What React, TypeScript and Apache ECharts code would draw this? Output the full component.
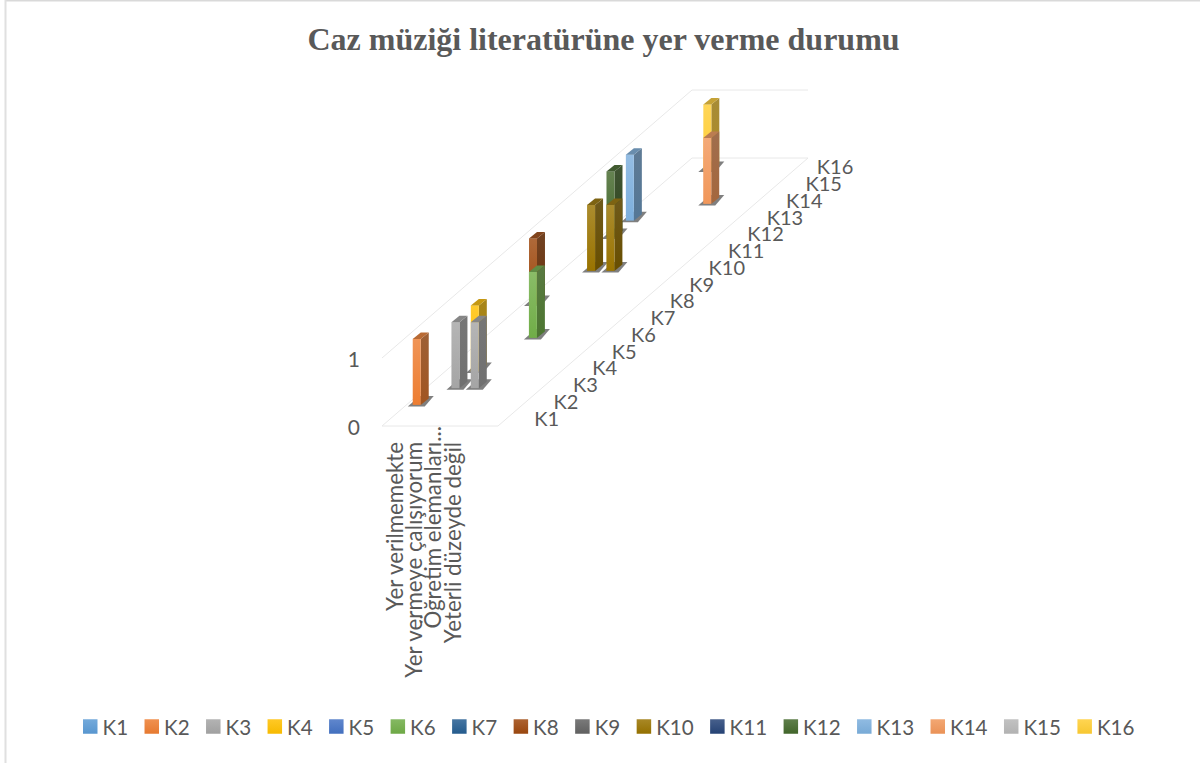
import React, { useEffect, useRef } from "react";
import * as echarts from "echarts";

const titleText = "Caz müziği literatürüne yer verme durumu";
const categories = ["Yer verilmemekte", "Yer vermeye çalışıyorum", "Öğretim elemanları...", "Yeterli düzeyde değil", "", ""];
const depthLabels = ["K1","K2","K3","K4","K5","K6","K7","K8","K9","K10","K11","K12","K13","K14","K15","K16"];
const K1v = [0,0,0,0,0,0];
const K2v = [1,0,0,0,0,0];
const K3v = [0,1,1,0,0,0];
const K4v = [0,1,0,0,0,0];
const K5v = [0,0,0,0,0,0];
const K6v = [0,0,1,0,0,0];
const K7v = [0,0,0,0,0,0];
const K8v = [1,0,0,0,0,0];
const K9v = [0,0,0,0,0,0];
const K10v = [0,1,1,0,0,0];
const K11v = [0,0,0,0,0,0];
const K12v = [1,0,0,0,0,0];
const K13v = [1,0,0,0,0,0];
const K14v = [0,0,0,1,0,0];
const K15v = [0,0,0,0,0,0];
const K16v = [0,1,0,0,0,0];
const seriesValues = [K1v, K2v, K3v, K4v, K5v, K6v, K7v, K8v, K9v, K10v, K11v, K12v, K13v, K14v, K15v, K16v];
const palette = ["#5B9BD5","#ED7D31","#A5A5A5","#FFC000","#4472C4","#70AD47","#255E91","#9E480E","#636363","#997300","#264478","#43682B","#7CAFDD","#F1975A","#B7B7B7","#FFCD33"];

const TEXT = "#595959";
const FONT = "Lato, Carlito, sans-serif";
// The axis labels sit 2.5px right of the band centres, so the grid is moved and the 3D marks move back.
const SHIFT = 2.5;
const GRID = { left: 382 + SHIFT, right: 498 + SHIFT, top: 358, bottom: 426 };
const DEPTH = { dx: 310 / 16, dy: -268 / 16 };
const WALL = "#E8E8E8";

function mix(hex: string, other: number, t: number) {
  const n = parseInt(hex.slice(1), 16);
  const c = [(n >> 16) & 255, (n >> 8) & 255, n & 255].map((x) => Math.round(x + (other - x) * t));
  return `rgb(${c[0]},${c[1]},${c[2]})`;
}
const vGrad = (top: string, bottom: string) =>
  new echarts.graphic.LinearGradient(0, 0, 0, 1, [{ offset: 0, color: top }, { offset: 1, color: bottom }]);

const poly = (points: number[][], style: any) => ({ type: "polygon", shape: { points }, style, silent: true });

function barItem(s: number, color: string) {
  return (params: any, api: any) => {
    const cat = api.value(0);
    const val = api.value(1);
    if (!val) return { type: "group", children: [] };
    const base = api.coord([cat, 0]);
    const top = api.coord([cat, val]);
    const ox = (s + 0.5) * DEPTH.dx - SHIFT;
    const oy = (s + 0.5) * DEPTH.dy;
    const half = 8, dpx = 8, dpy = -6.5;
    const x0 = base[0] + ox - half; // front-left
    const yb = base[1] + oy + 4;
    const yt = top[1] + oy + 6;
    const shadow = poly(
      [[x0 - 5, yb + 1.5],[x0 + 12, yb + 1.5],[x0 + 21, yb - 9],[x0 + 7, yb - 9]],
      { fill: "rgba(105,105,105,0.85)" }
    );
    const front = poly(
      [[x0, yb],[x0 + half, yb],[x0 + half, yt],[x0, yt]],
      { fill: vGrad(mix(color, 255, 0.18), color) }
    );
    const side = poly(
      [[x0 + half, yb],[x0 + half + dpx, yb + dpy],[x0 + half + dpx, yt + dpy],[x0 + half, yt]],
      { fill: vGrad(mix(color, 60, 0.45), mix(color, 0, 0.32)) }
    );
    const cap = poly(
      [[x0, yt],[x0 + half, yt],[x0 + half + dpx, yt + dpy],[x0 + dpx, yt + dpy]],
      { fill: mix(color, 60, 0.3) }
    );
    return { type: "group", children: [shadow, side, front, cap] };
  };
}

export default function App() {
  const ref = useRef<HTMLDivElement>(null);
  useEffect(() => {
    const chart = echarts.init(ref.current!, undefined, { renderer: "svg", width: 1200, height: 763 });
    const barSeries = depthLabels.map((name, s) => ({
      name,
      type: "custom",
      coordinateSystem: "cartesian2d",
      z: 100 - s,
      itemStyle: { color: vGrad(mix(palette[s], 255, 0.15), mix(palette[s], 0, 0.03)) },
      renderItem: barItem(s, palette[s]),
      encode: { x: 0, y: 1 },
      data: seriesValues[s].map((v, c) => [c, v]),
    }));
    const frameSeries = {
      name: "frame",
      type: "custom",
      coordinateSystem: "cartesian2d",
      z: 1,
      silent: true,
      renderItem: (_p: any, api: any) => {
        const band = api.size([1, 0])[0];
        const a0 = api.coord([0, 0]);
        const a5 = api.coord([categories.length - 1, 0]);
        const a1 = api.coord([0, 1]);
        const fl = [a0[0] - band / 2 - SHIFT, a0[1]];
        const fr = [a5[0] + band / 2 - SHIFT, a5[1]];
        const wl = [fl[0], a1[1]];
        const dx = depthLabels.length * DEPTH.dx;
        const dy = depthLabels.length * DEPTH.dy;
        const ln = (a: number[], b: number[]) => ({
          type: "line",
          shape: { x1: a[0], y1: a[1], x2: b[0], y2: b[1] },
          style: { stroke: WALL, lineWidth: 1 },
        });
        return {
          type: "group",
          children: [
            ln(fl, fr),
            ln(fr, [fr[0] + dx, fr[1] + dy]),
            ln(fl, [fl[0] + dx, fl[1] + dy]),
            ln([fl[0] + dx, fl[1] + dy], [fr[0] + dx, fr[1] + dy]),
            ln(wl, [wl[0] + dx, wl[1] + dy]),
            ln([wl[0] + dx, wl[1] + dy], [fr[0] + dx, wl[1] + dy]),
          ],
        };
      },
      data: [[0, 0]],
    };
    const depthLabelSeries = {
      name: "depthLabels",
      type: "custom",
      coordinateSystem: "cartesian2d",
      z: 2,
      silent: true,
      renderItem: (_p: any, api: any) => {
        const i = api.value(0);
        const band = api.size([1, 0])[0];
        const a5 = api.coord([categories.length - 1, 0]);
        return {
          type: "text",
          style: {
            x: a5[0] + band / 2 - SHIFT + (i + 0.5) * DEPTH.dx + (i === depthLabels.length - 1 ? 18.5 : 26.5),
            y: a5[1] + (i + 0.5) * DEPTH.dy,
            text: depthLabels[i],
            fill: TEXT,
            font: `20px ${FONT}`,
            align: "left",
            verticalAlign: "middle",
          },
        };
      },
      data: depthLabels.map((_, i) => [i, 0]),
    };
    chart.setOption({
      animation: false,
      backgroundColor: "#fff",
      title: {
        text: titleText,
        left: 598.5,
        textAlign: "center",
        top: 18,
        textStyle: { fontFamily: "Liberation Serif", fontWeight: "bold", fontSize: 32, color: TEXT },
      },
      legend: {
        left: 78,
        top: 711,
        icon: "rect",
        itemWidth: 14.5,
        itemHeight: 14.5,
        itemGap: 16.43,
        data: depthLabels,
        textStyle: { color: TEXT, fontFamily: FONT, fontSize: 20.6 },
      },
      grid: { left: GRID.left, top: GRID.top, width: GRID.right - GRID.left, height: GRID.bottom - GRID.top },
      xAxis: {
        type: "category",
        data: categories.map((value, i) => ({
          value,
          textStyle: i === 2 ? {} : { padding: [0, 16, 0, 0] },
        })),
        axisLine: { show: false },
        axisTick: { show: false },
        axisLabel: { interval: 0, rotate: 90, margin: 0, color: TEXT, fontFamily: FONT, fontSize: 22.3, hideOverlap: false },
      },
      yAxis: {
        type: "value",
        min: 0,
        max: 1,
        interval: 1,
        splitLine: { show: false },
        axisLine: { show: false },
        axisTick: { show: false },
        axisLabel: { margin: 22 + SHIFT, color: TEXT, fontFamily: FONT, fontSize: 21 },
      },
      graphic: [
        { type: "line", silent: true, shape: { x1: 5.5, y1: 0.5, x2: 1200, y2: 0.5 }, style: { stroke: "#D9D9D9", lineWidth: 2 } },
        { type: "line", silent: true, shape: { x1: 5.5, y1: 0, x2: 5.5, y2: 763 }, style: { stroke: "#E0E0E0", lineWidth: 2 } },
      ],
      series: [frameSeries, depthLabelSeries, ...barSeries],
    });
    return () => chart.dispose();
  }, []);
  return <div ref={ref} style={{ position: "fixed", left: 0, top: 0, width: 1200, height: 763, background: "#fff" }} />;
}
